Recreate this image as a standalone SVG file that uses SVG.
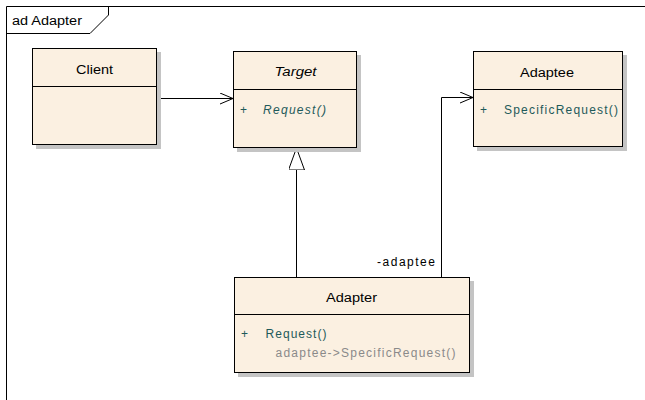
<svg xmlns="http://www.w3.org/2000/svg" width="645" height="400" viewBox="0 0 645 400">
<style>
text{font-family:"Liberation Sans",Arial,sans-serif;font-size:12px;fill:#000}
.box{fill:#FBF0E1;stroke:#000;stroke-width:1}
.shadow{fill:#C4C4C4}
.div{stroke:#000;stroke-width:1}
.mem{fill:#1E5A5A}
.note{fill:#8A8A8A}
.conn{fill:none;stroke:#000;stroke-width:1}
</style>
<defs>
<marker id="open" viewBox="0 0 13 12" refX="13" refY="6" markerWidth="13" markerHeight="12" markerUnits="userSpaceOnUse" orient="auto">
<path d="M0,0.5 L13,6 L0,11.5" fill="none" stroke="#000" stroke-width="1"/>
</marker>
<marker id="gen" viewBox="0 0 22 16" refX="22" refY="8" markerWidth="22" markerHeight="16" markerUnits="userSpaceOnUse" orient="auto">
<path d="M0,0 L22,8 L0,16 Z" fill="#fff" stroke="#000" stroke-width="1"/>
</marker>
</defs>
<rect x="0" y="0" width="645" height="400" fill="#fff"/>
<g id="frame">
<path d="M6.5,400 L6.5,6.5 L645,6.5" fill="none" stroke="#000"/>
<path d="M6.5,33.5 L90,33.5 L108.5,15 L108.5,6.5" fill="none" stroke="#000"/>
<text x="12" y="25" textLength="70" lengthAdjust="spacingAndGlyphs">ad Adapter</text>
</g>
<g id="connectors">
<line class="conn" x1="157" y1="98.5" x2="233" y2="98.5" marker-end="url(#open)"/>
<polyline class="conn" points="441.5,277 441.5,97.5 473,97.5" marker-end="url(#open)"/>
<line class="conn" x1="296.5" y1="277" x2="296.5" y2="148" marker-end="url(#gen)"/>
<text x="377" y="266" textLength="58" lengthAdjust="spacing">-adaptee</text>
</g>
<g id="client">
<rect class="shadow" x="36" y="52" width="125" height="97"/>
<rect class="box" x="32.5" y="48.5" width="124" height="96"/>
<line class="div" x1="32.5" y1="86.5" x2="156.5" y2="86.5"/>
<text x="76" y="74" textLength="37" lengthAdjust="spacingAndGlyphs">Client</text>
</g>
<g id="target">
<rect class="shadow" x="237" y="55" width="124" height="97"/>
<rect class="box" x="233.5" y="51.5" width="123" height="96"/>
<line class="div" x1="233.5" y1="89.5" x2="356.5" y2="89.5"/>
<text x="274.5" y="76" font-style="italic" textLength="42" lengthAdjust="spacingAndGlyphs">Target</text>
<text class="mem" x="240" y="114">+</text>
<text class="mem" x="263" y="114" font-style="italic" textLength="63" lengthAdjust="spacing">Request()</text>
</g>
<g id="adaptee">
<rect class="shadow" x="477" y="55" width="150" height="96"/>
<rect class="box" x="473.5" y="51.5" width="149" height="95"/>
<line class="div" x1="473.5" y1="89.5" x2="622.5" y2="89.5"/>
<text x="520" y="77" textLength="54" lengthAdjust="spacingAndGlyphs">Adaptee</text>
<text class="mem" x="480" y="114">+</text>
<text class="mem" x="504" y="114" textLength="114" lengthAdjust="spacing">SpecificRequest()</text>
</g>
<g id="adapter">
<rect class="shadow" x="238" y="281" width="236" height="96"/>
<rect class="box" x="234.5" y="277.5" width="235" height="95"/>
<line class="div" x1="234.5" y1="314.5" x2="469.5" y2="314.5"/>
<text x="326" y="302" textLength="51" lengthAdjust="spacingAndGlyphs">Adapter</text>
<text class="mem" x="241" y="338">+</text>
<text class="mem" x="265.5" y="338" textLength="61" lengthAdjust="spacing">Request()</text>
<text class="note" x="275.5" y="357" textLength="180" lengthAdjust="spacing">adaptee-&gt;SpecificRequest()</text>
</g>
</svg>
